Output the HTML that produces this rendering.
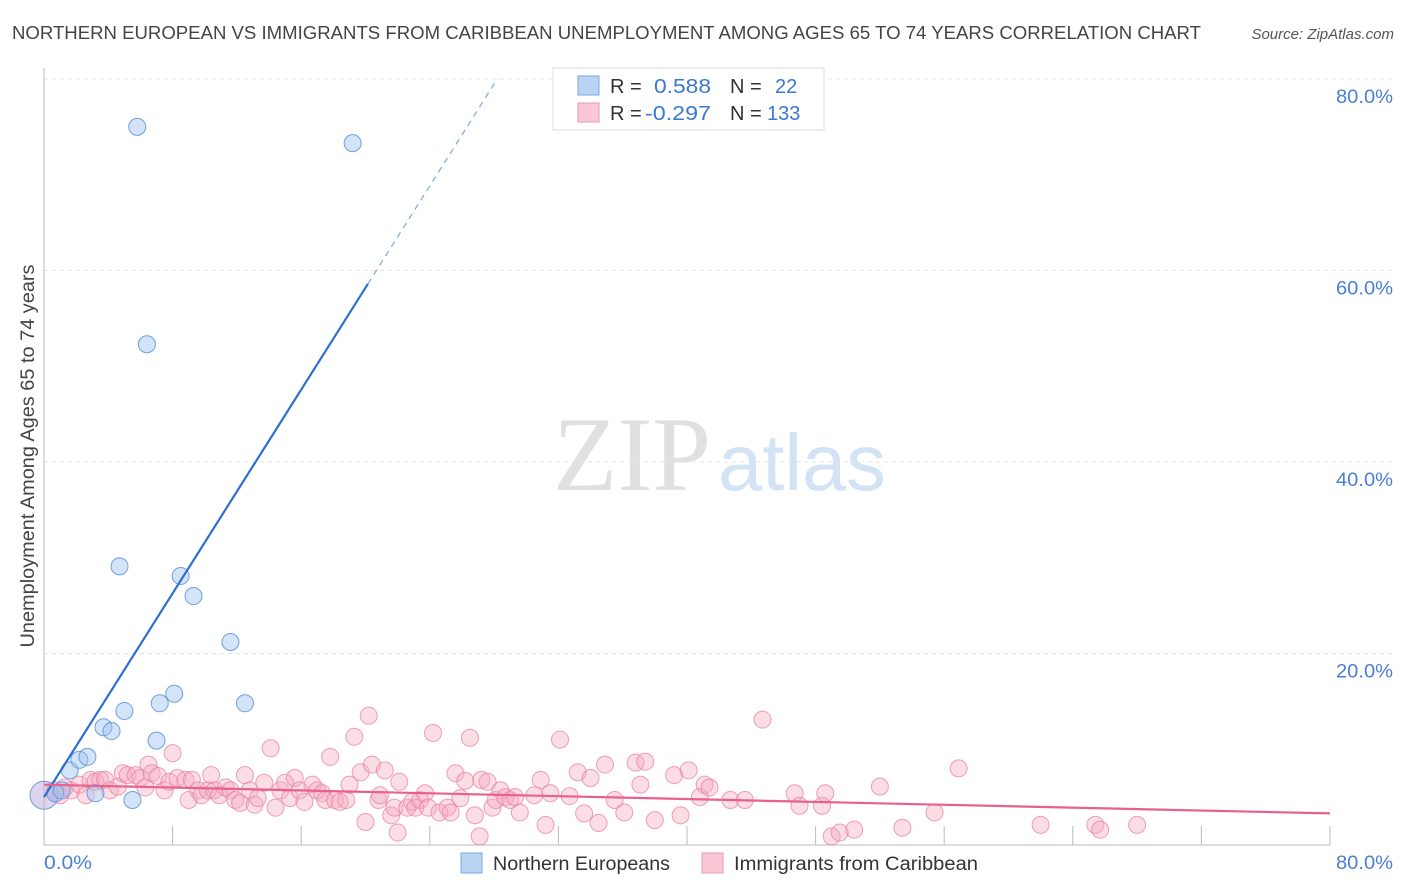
<!DOCTYPE html>
<html><head><meta charset="utf-8"><style>
body{margin:0;background:#fff;font-family:"Liberation Sans",sans-serif;}
svg{display:block}
</style></head><body>
<svg id="chart" width="1406" height="892" viewBox="0 0 1406 892" xmlns="http://www.w3.org/2000/svg">
<text x="12" y="39" font-size="18" fill="#444" textLength="1189" lengthAdjust="spacingAndGlyphs">NORTHERN EUROPEAN VS IMMIGRANTS FROM CARIBBEAN UNEMPLOYMENT AMONG AGES 65 TO 74 YEARS CORRELATION CHART</text>
<text x="1394" y="39" font-size="15" fill="#555" font-style="italic" text-anchor="end">Source: ZipAtlas.com</text>
<g>
<text x="553" y="490" font-size="106" font-family="Liberation Serif,serif" fill="#e0e0e0" textLength="158" lengthAdjust="spacingAndGlyphs">ZIP</text>
<text x="718" y="490" font-size="80" fill="#d3e2f5" textLength="168" lengthAdjust="spacingAndGlyphs">atlas</text>
</g>
<g id="grid"></g>
<g id="axes"></g>
<g id="pink"></g>
<g id="blue"></g>
<g id="lines"></g>
<text transform="translate(34,456) rotate(-90)" font-size="19" fill="#444" text-anchor="middle" textLength="383" lengthAdjust="spacingAndGlyphs">Unemployment Among Ages 65 to 74 years</text>
<text x="44" y="869" font-size="19" fill="#4a7fd4" textLength="48" lengthAdjust="spacingAndGlyphs">0.0%</text>
<text x="1336" y="869" font-size="19" fill="#4a7fd4" textLength="57" lengthAdjust="spacingAndGlyphs">80.0%</text>
<g>
<rect x="553" y="68" width="271" height="62" fill="#fff" stroke="#ddd"/>
<rect x="578" y="76" width="21" height="19" fill="#b9d3f3" stroke="#7aa7e0"/>
<rect x="578" y="103" width="21" height="19" fill="#f9c7d5" stroke="#ec9ab2"/>
<text x="610" y="93" font-size="20" fill="#333">R = </text><text x="654" y="93" font-size="20" fill="#3a78d4" textLength="57" lengthAdjust="spacingAndGlyphs">0.588</text>
<text x="730" y="93" font-size="20" fill="#333">N = </text><text x="775" y="93" font-size="20" fill="#3a78d4">22</text>
<text x="610" y="120" font-size="20" fill="#333">R = </text><text x="645" y="120" font-size="20" fill="#3a78d4" textLength="66" lengthAdjust="spacingAndGlyphs">-0.297</text>
<text x="730" y="120" font-size="20" fill="#333">N = </text><text x="767" y="120" font-size="20" fill="#3a78d4">133</text>
</g>
<g>
<rect x="461" y="853" width="21" height="20" fill="#b9d3f3" stroke="#7aa7e0"/>
<text x="493" y="870" font-size="19" fill="#333" textLength="177" lengthAdjust="spacingAndGlyphs">Northern Europeans</text></g>
<g>
<rect x="702" y="853" width="21" height="20" fill="#f9c7d5" stroke="#ec9ab2"/>
<text x="734" y="870" font-size="19" fill="#333" textLength="244" lengthAdjust="spacingAndGlyphs">Immigrants from Caribbean</text></g>
</svg>
<script>
const yTicks=[20,40,60,80];
const yTickLabels=["20.0%","40.0%","60.0%","80.0%"];
const blueX=[0,0.7,1.1,1.6,2.2,2.7,3.2,3.7,4.2,5.0,5.5,5.8,6.4,4.7,7.0,7.2,8.1,8.5,9.3,11.6,12.5,19.2];
const blueY=[5.2,5.4,5.7,7.8,8.9,9.2,5.4,12.3,11.9,14.0,4.7,75.0,52.3,29.1,10.9,14.8,15.8,28.1,26.0,21.2,14.8,73.3];
const pinkX=[0.7,1.0,1.3,1.7,2.2,2.6,2.9,3.2,3.5,3.8,4.1,4.6,4.9,5.2,5.7,6.0,6.3,6.5,6.7,7.1,7.5,7.8,8.0,8.3,8.8,9.0,9.2,9.6,9.8,10.2,10.4,10.6,10.9,11.3,11.6,11.9,12.2,12.5,12.8,13.1,13.3,13.7,14.1,14.4,14.7,15.0,15.3,15.6,15.9,16.2,16.7,17.0,17.3,17.5,17.8,18.1,18.4,18.8,19.0,19.3,19.7,20.0,20.2,20.4,20.8,20.9,21.2,21.6,21.8,22.0,22.1,22.6,22.9,23.1,23.4,23.7,23.9,24.2,24.6,25.1,25.3,25.6,25.9,26.2,26.5,26.8,27.1,27.2,27.6,27.9,28.1,28.4,28.7,29.0,29.3,29.6,30.5,30.9,31.2,31.5,32.1,32.7,33.2,33.6,34.0,34.5,34.9,35.5,36.1,36.8,37.1,37.4,38.0,39.2,39.6,40.1,40.8,41.1,41.4,42.7,43.6,44.7,46.7,47.0,48.4,48.6,49.0,49.5,50.4,52.0,53.4,55.4,56.9,62.0,65.4,65.7,68.0];
const pinkY=[5.7,5.2,6.0,5.7,6.3,5.2,6.8,6.6,6.8,6.8,5.7,6.1,7.5,7.3,7.3,7.0,6.0,8.4,7.5,7.2,5.7,6.6,9.6,7.0,6.8,4.7,6.8,5.7,5.2,5.7,7.3,5.7,5.2,6.0,5.7,4.7,4.4,7.3,5.7,4.2,4.9,6.5,10.1,3.9,5.7,6.5,4.9,7.0,5.7,4.5,6.3,5.7,5.4,4.7,9.2,4.7,4.5,4.7,6.3,11.3,7.6,2.4,13.5,8.4,4.7,5.2,7.8,3.1,3.9,1.3,6.6,3.9,4.5,3.9,4.7,5.4,3.9,11.7,3.4,3.9,3.4,7.5,4.9,6.7,11.2,3.1,0.9,6.8,6.6,3.9,4.7,5.7,5.0,4.7,5.0,3.4,5.2,6.8,2.1,5.4,11.0,5.1,7.6,3.3,7.0,2.3,8.4,4.7,3.4,8.6,6.3,8.7,2.6,7.3,3.1,7.8,5.0,6.3,6.0,4.7,4.7,13.1,5.4,4.1,4.1,5.4,0.9,1.3,1.6,6.1,1.8,3.4,8.0,2.1,2.1,1.6,2.1];
const blueTrend=[5.0,2.66];   // intercept, slope
const pinkTrend=[6.3,-0.0375];
const NS="http://www.w3.org/2000/svg";
const x=v=>44+v/80*1286, y=v=>845-v/80*766;
function mk(t,a,p){const e=document.createElementNS(NS,t);for(const k in a)e.setAttribute(k,a[k]);p.appendChild(e);return e;}
const grid=document.getElementById('grid'),axes=document.getElementById('axes');
yTicks.forEach((t,i)=>{
 const l=mk('line',{x1:44,x2:1393,y1:y(t),y2:y(t),stroke:'#e4e4e4','stroke-dasharray':'4,4'},grid);
 
 
 const tx=mk('text',{x:1336,y:y(t)+24,'font-size':19,fill:'#4a7fd4',textLength:57,lengthAdjust:'spacingAndGlyphs'},axes);
 tx.textContent=yTickLabels[i];
 
 
});
mk('line',{x1:44,x2:44,y1:68,y2:845,stroke:'#bbb'},axes);
mk('line',{x1:44,x2:1330,y1:845,y2:845,stroke:'#bbb'},axes);
for(let i=1;i<=10;i++){const t=mk('line',{x1:x(i*8),x2:x(i*8),y1:826,y2:845,stroke:'#bbb'},axes);
 
 }
const pg=document.getElementById('pink'),bg=document.getElementById('blue');
pinkX.forEach((v,i)=>{const c=mk('circle',{cx:x(v),cy:y(pinkY[i]),r:8.5,fill:'rgba(245,170,192,0.4)',stroke:'rgba(232,130,160,0.75)','stroke-width':1},pg);
 
 });
blueX.forEach((v,i)=>{const c=mk('circle',{cx:x(v),cy:y(blueY[i]),r:i==0?14:8.5,fill:i==0?'rgba(190,170,220,0.5)':'rgba(160,195,240,0.45)',stroke:'rgba(80,140,215,0.8)','stroke-width':1},bg);
 
 });
const lg=document.getElementById('lines');
const bEnd=20.15,bDash=(80-blueTrend[0])/blueTrend[1];
const b1=mk('line',{x1:x(0),y1:y(blueTrend[0]),x2:x(bEnd),y2:y(blueTrend[0]+blueTrend[1]*bEnd),stroke:'#2f6fd0','stroke-width':2.2},lg);


const b2=mk('line',{x1:x(bEnd),y1:y(blueTrend[0]+blueTrend[1]*bEnd),x2:x(bDash),y2:y(80),stroke:'#7aa7e0','stroke-width':1.2,'stroke-dasharray':'6,5'},lg);


const p1=mk('line',{x1:x(0),y1:y(pinkTrend[0]),x2:x(80),y2:y(pinkTrend[0]+pinkTrend[1]*80),stroke:'#e8608e','stroke-width':2.2},lg);


</script>
</body></html>
